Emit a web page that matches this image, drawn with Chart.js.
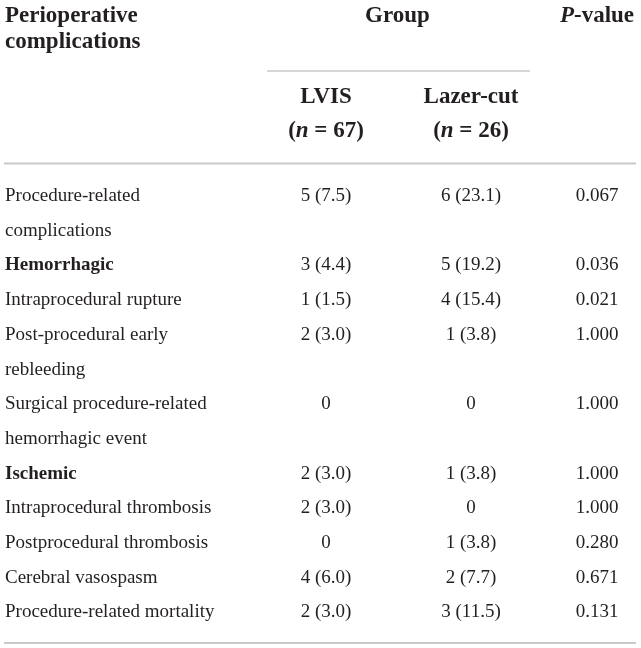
<!DOCTYPE html>
<html>
<head>
<meta charset="utf-8">
<script src="https://cdn.jsdelivr.net/npm/chart.js@4"></script>
<style>
  html, body { margin: 0; padding: 0; background: #fff; }
  #wrap { width: 641px; height: 648px; position: relative; }
</style>
</head>
<body>
<div id="wrap"><canvas id="c"></canvas></div>
<script>
// ---------- data ----------
const stubTitle = ["Perioperative", "complications"];
const groupTitle = "Group";
const groupNames = ["LVIS", "Lazer-cut"];
const groupN = [67, 26];
const pTitle = ["P", "-value"];

const rowLabels = [
  ["Procedure-related", "complications"],
  ["Hemorrhagic"],
  ["Intraprocedural rupture"],
  ["Post-procedural early", "rebleeding"],
  ["Surgical procedure-related", "hemorrhagic event"],
  ["Ischemic"],
  ["Intraprocedural thrombosis"],
  ["Postprocedural thrombosis"],
  ["Cerebral vasospasm"],
  ["Procedure-related mortality"]
];
const boldRows = ["Hemorrhagic", "Ischemic"];
const lvisValues  = ["5 (7.5)", "3 (4.4)", "1 (1.5)", "2 (3.0)", "0", "2 (3.0)", "2 (3.0)", "0", "4 (6.0)", "2 (3.0)"];
const lazerValues = ["6 (23.1)", "5 (19.2)", "4 (15.4)", "1 (3.8)", "0", "1 (3.8)", "0", "1 (3.8)", "2 (7.7)", "3 (11.5)"];
const pValues     = ["0.067", "0.036", "0.021", "1.000", "1.000", "1.000", "1.000", "0.280", "0.671", "0.131"];

// ---------- layout ----------
const W = 641, H = 648;
const COL_X = [5, 326, 471, 597];          // label left edge, then centers
const COL_ALIGN = ["left", "center", "center", "center"];
const FIRST_BASELINE = 201, LINE_STEP = 34.7;
const TEXT = "#231f20", RULE = "#c9c9c9";
const SERIF = "'Liberation Serif', 'Times New Roman', serif";
const BODY_FONT = "19px " + SERIF;
const BODY_BOLD = "bold 19px " + SERIF;
const HEAD = "bold 23px " + SERIF;
const HEAD_IT = "italic bold 23px " + SERIF;

// line index where each row starts
const rowStart = [];
rowLabels.reduce((acc, lines) => { rowStart.push(acc); return acc + lines.length; }, 0);

const columns = [rowLabels.map(l => l), lvisValues.map(v => [v]), lazerValues.map(v => [v]), pValues.map(v => [v])];

const datasets = columns.map((col, c) => ({
  label: "col" + c,
  data: col.map((_, i) => ({ x: COL_X[c], y: rowStart[i] })),
  cells: col,
  colIndex: c,
  pointRadius: 0,
  pointHoverRadius: 0,
  showLine: false
}));

const yMin = -FIRST_BASELINE / LINE_STEP;
const yMax = yMin + H / LINE_STEP;

function drawRich(ctx, parts, cx, y) {
  let total = 0;
  parts.forEach(p => { ctx.font = p[1]; total += ctx.measureText(p[0]).width; });
  let x = cx - total / 2;
  ctx.textAlign = "left";
  parts.forEach(p => { ctx.font = p[1]; ctx.fillText(p[0], x, y); x += ctx.measureText(p[0]).width; });
}

const tablePlugin = {
  id: "tablePlugin",
  afterDatasetsDraw(chart) {
    const ctx = chart.ctx;
    const ys = chart.scales.y;
    ctx.save();
    ctx.fillStyle = TEXT;
    ctx.textBaseline = "alphabetic";

    // header
    ctx.font = HEAD; ctx.textAlign = "left";
    ctx.fillText(stubTitle[0], COL_X[0], 22);
    ctx.fillText(stubTitle[1], COL_X[0], 48);
    ctx.textAlign = "center";
    ctx.fillText(groupTitle, (COL_X[1] + COL_X[2]) / 2 - 1, 22);
    drawRich(ctx, [[pTitle[0], HEAD_IT], [pTitle[1], HEAD]], COL_X[3], 22);
    groupNames.forEach((g, k) => {
      ctx.font = HEAD; ctx.textAlign = "center";
      ctx.fillText(g, COL_X[k + 1], 103);
      drawRich(ctx, [["(", HEAD], ["n", HEAD_IT], [" = " + groupN[k] + ")", HEAD]], COL_X[k + 1], 137);
    });

    // body cells from dataset elements
    chart.data.datasets.forEach((ds, di) => {
      const meta = chart.getDatasetMeta(di);
      meta.data.forEach((pt, i) => {
        const lines = ds.cells[i];
        const bold = ds.colIndex === 0 && boldRows.includes(lines[0]);
        ctx.font = bold ? BODY_BOLD : BODY_FONT;
        ctx.textAlign = COL_ALIGN[ds.colIndex];
        lines.forEach((t, k) => {
          const y = k === 0 ? pt.y : ys.getPixelForValue(ds.data[i].y + k);
          ctx.fillText(t, pt.x, y);
        });
      });
    });

    // rules
    ctx.strokeStyle = RULE;
    ctx.lineWidth = 1.5;
    ctx.beginPath(); ctx.moveTo(267, 71); ctx.lineTo(530, 71); ctx.stroke();
    ctx.lineWidth = 2;
    ctx.beginPath(); ctx.moveTo(4, 163.5); ctx.lineTo(636, 163.5); ctx.stroke();
    ctx.beginPath(); ctx.moveTo(4, 643); ctx.lineTo(636, 643); ctx.stroke();
    ctx.restore();
  }
};

new Chart(document.getElementById("c"), {
  type: "scatter",
  data: { datasets },
  options: {
    responsive: true,
    maintainAspectRatio: false,
    animation: false,
    events: [],
    layout: { padding: 0, autoPadding: false },
    plugins: { legend: { display: false }, tooltip: { enabled: false }, title: { display: false } },
    scales: {
      x: { type: "linear", display: false, min: 0, max: W },
      y: { type: "linear", display: false, reverse: true, min: yMin, max: yMax }
    }
  },
  plugins: [tablePlugin]
});
</script>
</body>
</html>
